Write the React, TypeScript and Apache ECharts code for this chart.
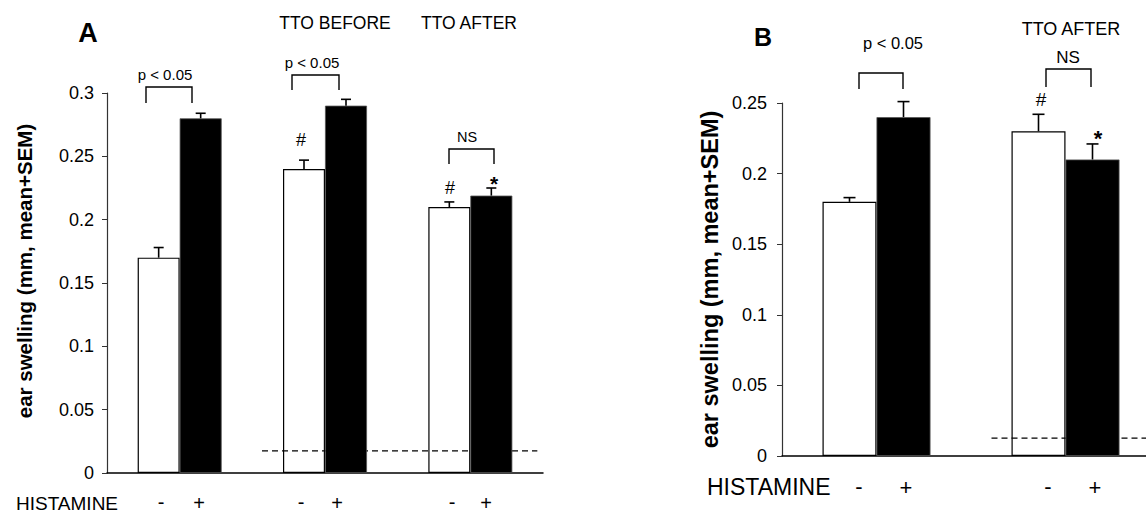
import React, { useEffect, useRef } from "react";
import * as echarts from "echarts";

// Panel A
const catsA = ["CONTROL", "TTO BEFORE", "TTO AFTER"];
const minusA = [0.17, 0.24, 0.21];
const plusA = [0.28, 0.29, 0.219];
const semMinusA = [0.008, 0.007, 0.004];
const semPlusA = [0.004, 0.005, 0.006];
const baselineA = 0.0175;
const ticksA = { min: 0, max: 0.3, interval: 0.05 };

// Panel B
const catsB = ["CONTROL", "TTO AFTER"];
const minusB = [0.18, 0.23];
const plusB = [0.24, 0.21];
const semMinusB = [0.003, 0.012];
const semPlusB = [0.011, 0.011];
const baselineB = 0.0127;
const ticksB = { min: 0, max: 0.25, interval: 0.05 };

const yTitle = "ear swelling (mm, mean+SEM)";
const FONT = "Liberation Sans, Arial, sans-serif";

function errSeries(name: string, gi: number, means: number[], sems: number[], offset: number, capHalf: number) {
  return {
    type: "custom",
    name,
    xAxisIndex: gi,
    yAxisIndex: gi,
    z: 6,
    clip: false,
    data: means.map((m, i) => [i, m, m + sems[i]]),
    renderItem: (params: any, api: any) => {
      const p0 = api.coord([api.value(0), api.value(1)]);
      const p1 = api.coord([api.value(0), api.value(2)]);
      const x = p0[0] + offset;
      return {
        type: "group",
        children: [
          { type: "line", shape: { x1: x, y1: p0[1], x2: x, y2: p1[1] }, style: { stroke: "#000", lineWidth: 1.6 } },
          { type: "line", shape: { x1: x - capHalf, y1: p1[1], x2: x + capHalf, y2: p1[1] }, style: { stroke: "#000", lineWidth: 1.6 } },
        ],
      };
    },
  };
}

function dashSeries(gi: number, value: number, fromCat: number, fromOff: number, toCat: number, toOff: number) {
  return {
    type: "custom",
    xAxisIndex: gi,
    yAxisIndex: gi,
    z: 3,
    clip: false,
    data: [[value]],
    renderItem: (params: any, api: any) => {
      const a = api.coord([fromCat, api.value(0)]);
      const b = api.coord([toCat, api.value(0)]);
      return {
        type: "line",
        shape: { x1: a[0] + fromOff, y1: a[1], x2: b[0] + toOff, y2: b[1] },
        style: { stroke: "#000", lineWidth: 1.3, lineDash: [6, 4] },
      };
    },
  };
}

const txt = (text: string, x: number, y: number, size: number, opts: any = {}) => ({
  type: "text",
  x,
  y,
  style: {
    text,
    fill: "#000",
    font: `${opts.bold ? "bold " : ""}${size}px ${FONT}`,
    textAlign: opts.align || "center",
    textVerticalAlign: "middle",
  },
});

const bracket = (x1: number, x2: number, top: number, bottom: number) => ({
  type: "polyline",
  shape: { points: [[x1, bottom], [x1, top], [x2, top], [x2, bottom]] },
  style: { stroke: "#000", lineWidth: 1.4, fill: null },
});

export default function App() {
  const ref = useRef<HTMLDivElement>(null);
  useEffect(() => {
    if (!ref.current) return;
    const chart = echarts.init(ref.current, undefined, { renderer: "svg" });
    const yAxisCommon = {
      type: "value",
      axisLine: { show: true, lineStyle: { color: "#333", width: 1.2 } },
      axisTick: { show: true, length: 5, lineStyle: { color: "#333" } },
      splitLine: { show: false },
      nameLocation: "middle",
      nameRotate: 90,
    };
    const xAxisCommon = {
      type: "category",
      axisLine: { show: true, lineStyle: { color: "#000", width: 1.5 } },
      axisTick: { show: false },
      axisLabel: { show: false },
    };
    const whiteStyle = { color: "#fff", borderColor: "#000", borderWidth: 1.2 };
    const blackStyle = { color: "#000", borderColor: "#555", borderWidth: 0.8 };
    chart.setOption({
      animation: false,
      backgroundColor: "#fff",
      grid: [
        { left: 107, top: 93, width: 436, height: 380, outerBoundsMode: "none" },
        { left: 782, top: 103, width: 378, height: 353, outerBoundsMode: "none" },
      ],
      xAxis: [
        { ...xAxisCommon, gridIndex: 0, data: catsA },
        { ...xAxisCommon, gridIndex: 1, data: catsB },
      ],
      yAxis: [
        {
          ...yAxisCommon, gridIndex: 0, ...ticksA, name: yTitle, nameGap: 72,
          axisLabel: { color: "#000", fontSize: 18, fontFamily: FONT, margin: 13 },
          nameTextStyle: { color: "#000", fontSize: 20.5, fontWeight: "bold", fontFamily: FONT, padding: [0, 0, 0, 24] },
        },
        {
          ...yAxisCommon, gridIndex: 1, ...ticksB, name: yTitle, nameGap: 60,
          axisLabel: { color: "#000", fontSize: 18, fontFamily: FONT, margin: 15 },
          nameTextStyle: { color: "#000", fontSize: 23.5, fontWeight: "bold", fontFamily: FONT },
        },
      ],
      series: [
        dashSeries(0, baselineA, 1, -63, 2, 67),
        dashSeries(1, baselineB, 1, -74, 1, 100),
        { type: "bar", name: "A -", xAxisIndex: 0, yAxisIndex: 0, data: minusA, barWidth: 42, barGap: "0%", itemStyle: whiteStyle, z: 2 },
        { type: "bar", name: "A +", xAxisIndex: 0, yAxisIndex: 0, data: plusA, barWidth: 42, barGap: "0%", itemStyle: blackStyle, z: 4 },
        { type: "bar", name: "B -", xAxisIndex: 1, yAxisIndex: 1, data: minusB, barWidth: 54, barGap: "0%", itemStyle: whiteStyle, z: 2 },
        { type: "bar", name: "B +", xAxisIndex: 1, yAxisIndex: 1, data: plusB, barWidth: 54, barGap: "0%", itemStyle: blackStyle, z: 4 },
        errSeries("A - SEM", 0, minusA, semMinusA, -21, 5),
        errSeries("A + SEM", 0, plusA, semPlusA, 21, 5),
        errSeries("B - SEM", 1, minusB, semMinusB, -27, 6),
        errSeries("B + SEM", 1, plusB, semPlusB, 27, 6),
      ],
      graphic: [
        // Panel A
        txt("A", 88, 33, 27, { bold: true }),
        txt("TTO BEFORE", 335, 23, 17.5),
        txt("TTO AFTER", 469, 23, 17.5),
        txt("p < 0.05", 165, 74, 15),
        bracket(146, 192, 87, 103),
        txt("p < 0.05", 312, 62, 15),
        bracket(292, 339, 75, 90),
        txt("#", 301, 140, 18),
        txt("NS", 467, 137, 14.5),
        bracket(449, 494, 149, 164),
        txt("#", 450, 188, 18),
        txt("*", 494, 183, 21, { bold: true }),
        txt("HISTAMINE", 16, 503, 19, { align: "left" }),
        txt("-", 161, 502, 20),
        txt("+", 199, 503, 20),
        txt("-", 301, 502, 20),
        txt("+", 337, 503, 20),
        txt("-", 452, 502, 20),
        txt("+", 486, 503, 20),
        // Panel B
        txt("B", 763, 37, 25, { bold: true }),
        txt("p < 0.05", 893, 43, 16.5),
        bracket(859, 903, 73, 89),
        txt("TTO AFTER", 1071, 29, 18),
        txt("NS", 1068, 57, 17),
        bracket(1046, 1091, 69, 87),
        txt("#", 1041, 99, 19),
        txt("*", 1098, 138, 22, { bold: true }),
        txt("HISTAMINE", 707, 487, 23, { align: "left" }),
        txt("-", 859, 486, 22),
        txt("+", 906, 487, 22),
        txt("-", 1048, 486, 22),
        txt("+", 1095, 487, 22),
      ],
    });
    return () => chart.dispose();
  }, []);
  return <div ref={ref} style={{ position: "fixed", left: 0, top: 0, width: 1146, height: 515 }} />;
}
